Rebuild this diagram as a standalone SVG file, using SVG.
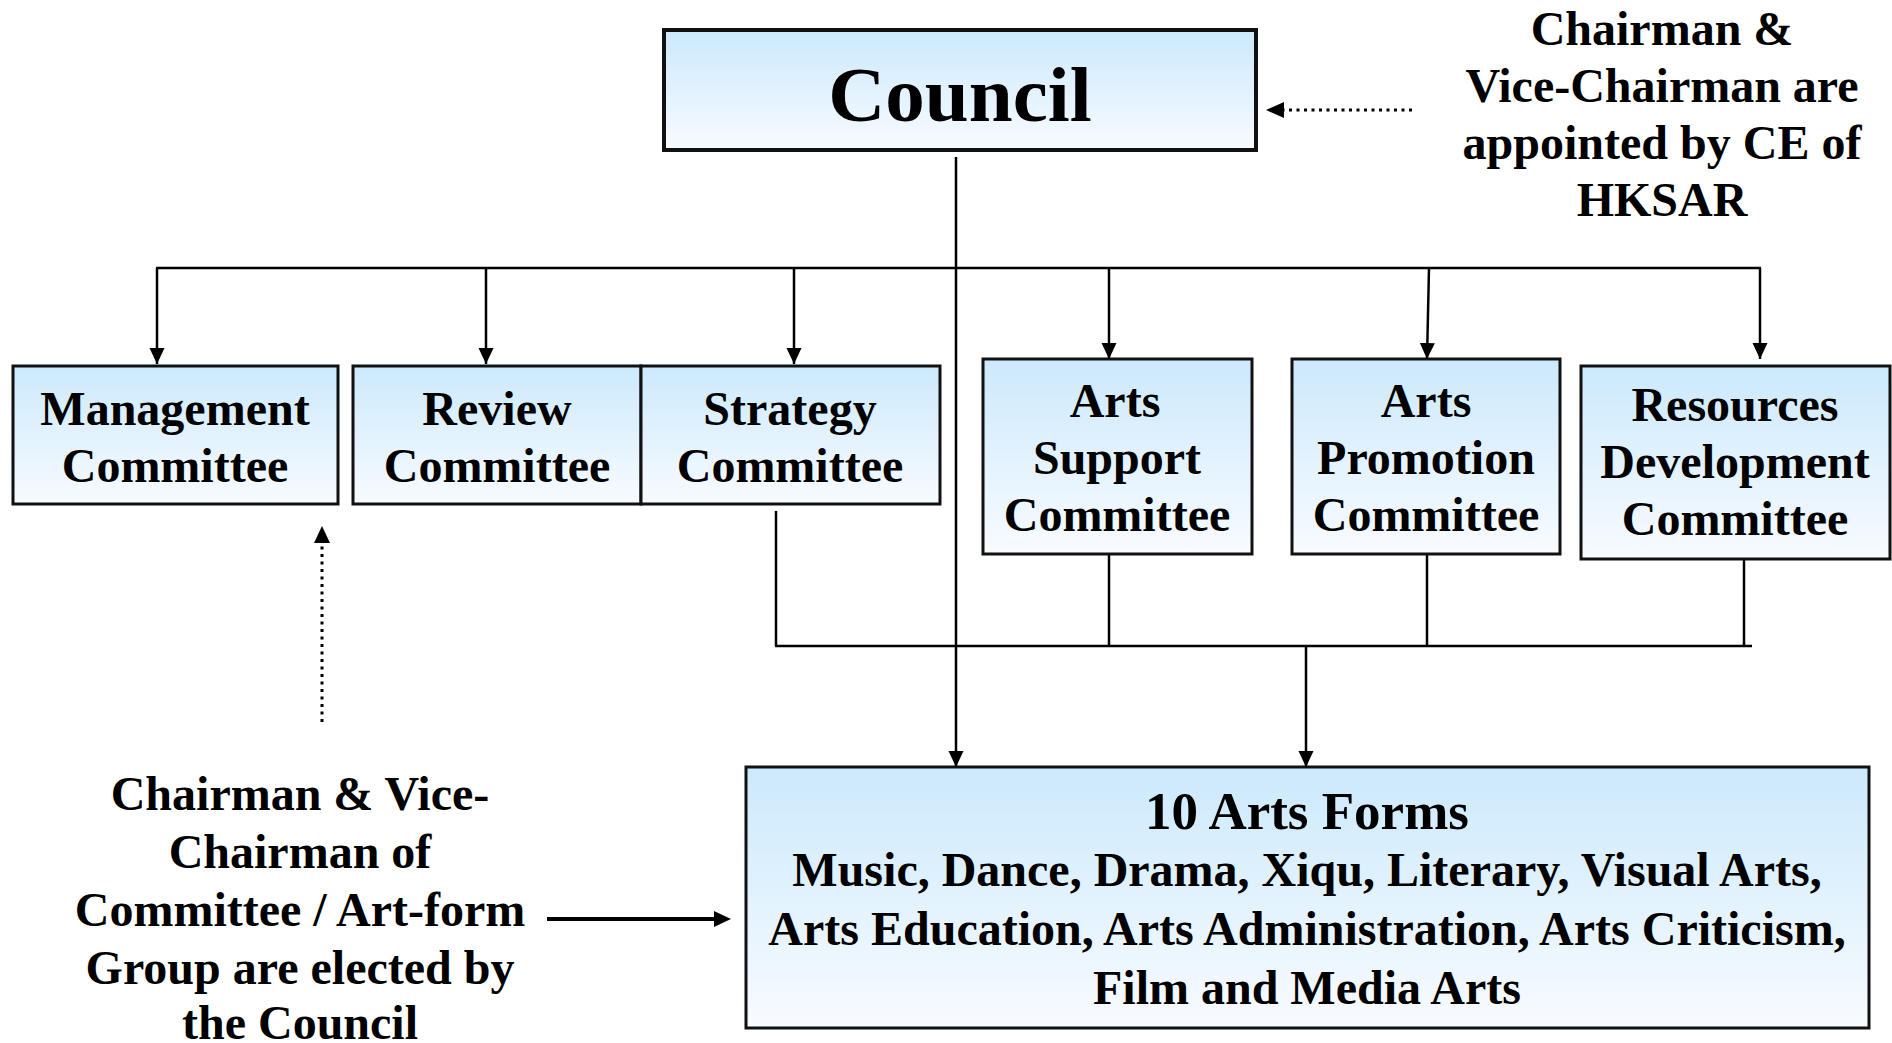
<svg xmlns="http://www.w3.org/2000/svg" width="1892" height="1043" viewBox="0 0 1892 1043">
<defs>
<linearGradient id="bg" x1="0" y1="0" x2="0" y2="1">
<stop offset="0" stop-color="#cce9fc"/>
<stop offset="1" stop-color="#f8fbff"/>
</linearGradient>
<marker id="ah" markerUnits="userSpaceOnUse" markerWidth="16" markerHeight="16" refX="16" refY="8" orient="auto">
<path d="M0,0.5 L16,8 L0,15.5 z" fill="#000"/>
</marker>
</defs>
<style>
.box{fill:url(#bg);stroke:#111;stroke-width:3}
.t{font-family:"Liberation Serif","Times New Roman",serif;font-weight:bold;font-size:48px;fill:#000;text-anchor:middle}
.ln{stroke:#000;stroke-width:2.5;fill:none}
.ar{stroke:#000;stroke-width:2.5;fill:none;marker-end:url(#ah)}
.dot{stroke:#000;stroke-width:3;fill:none;stroke-dasharray:3 4.5}
</style>
<rect width="1892" height="1043" fill="#fff"/>

<g id="connectors">
<line class="ar" x1="956" y1="157" x2="956" y2="767"/>
<line class="ln" x1="156" y1="268" x2="1761" y2="268"/>
<line class="ar" x1="157" y1="268" x2="157" y2="364"/>
<line class="ar" x1="486" y1="268" x2="486" y2="364"/>
<line class="ar" x1="794" y1="268" x2="794" y2="364"/>
<line class="ar" x1="1109" y1="268" x2="1109" y2="359"/>
<line class="ar" x1="1429" y1="268" x2="1427" y2="359"/>
<line class="ar" x1="1760" y1="268" x2="1760" y2="359"/>
<line class="ln" x1="776" y1="511" x2="776" y2="646"/>
<line class="ln" x1="775" y1="646" x2="1752" y2="646"/>
<line class="ln" x1="1109" y1="554" x2="1109" y2="646"/>
<line class="ln" x1="1427" y1="554" x2="1427" y2="646"/>
<line class="ln" x1="1744" y1="559" x2="1744" y2="646"/>
<line class="ar" x1="1306" y1="646" x2="1306" y2="767"/>
<line class="dot" x1="1412" y1="110" x2="1282" y2="110"/>
<path d="M1266,110 L1284,102 L1284,118 z" fill="#000"/>
<line class="dot" x1="322" y1="722" x2="322" y2="542"/>
<path d="M322,526 L314,543 L330,543 z" fill="#000"/>
<line x1="547" y1="919" x2="716" y2="919" stroke="#000" stroke-width="4"/>
<path d="M731,919 L714,911 L714,927 z" fill="#000"/>
</g>

<g id="council">
<rect class="box" x="664" y="30" width="592" height="120" style="stroke-width:4"/>
<text class="t" x="960" y="121" style="font-size:79px">Council</text>
</g>

<g id="note-ce">
<text class="t" x="1662" y="45">Chairman &amp;</text>
<text class="t" x="1662" y="102">Vice-Chairman are</text>
<text class="t" x="1662" y="159">appointed by CE of</text>
<text class="t" x="1662" y="216">HKSAR</text>
</g>

<g id="management">
<rect class="box" x="13" y="366" width="325" height="138"/>
<text class="t" x="175" y="425">Management</text>
<text class="t" x="175" y="482">Committee</text>
</g>

<g id="review">
<rect class="box" x="353" y="366" width="288" height="138"/>
<text class="t" x="497" y="425">Review</text>
<text class="t" x="497" y="482">Committee</text>
</g>

<g id="strategy">
<rect class="box" x="641" y="366" width="299" height="138"/>
<text class="t" x="790" y="425">Strategy</text>
<text class="t" x="790" y="482">Committee</text>
</g>

<g id="arts-support">
<rect class="box" x="983" y="359" width="269" height="195"/>
<text class="t" x="1115" y="417">Arts</text>
<text class="t" x="1117" y="474">Support</text>
<text class="t" x="1117" y="531">Committee</text>
</g>

<g id="arts-promotion">
<rect class="box" x="1292" y="359" width="268" height="195"/>
<text class="t" x="1426" y="417">Arts</text>
<text class="t" x="1426" y="474">Promotion</text>
<text class="t" x="1426" y="531">Committee</text>
</g>

<g id="resources">
<rect class="box" x="1581" y="366" width="309" height="193"/>
<text class="t" x="1735" y="421">Resources</text>
<text class="t" x="1735" y="478">Development</text>
<text class="t" x="1735" y="535">Committee</text>
</g>

<g id="arts-forms">
<rect class="box" x="746" y="767" width="1123" height="261"/>
<text class="t" x="1307" y="829" style="font-size:53px">10 Arts Forms</text>
<text class="t" x="1307" y="886">Music, Dance, Drama, Xiqu, Literary, Visual Arts,</text>
<text class="t" x="1307" y="945">Arts Education, Arts Administration, Arts Criticism,</text>
<text class="t" x="1307" y="1004">Film and Media Arts</text>
</g>

<g id="note-elected">
<text class="t" x="300" y="810">Chairman &amp; Vice-</text>
<text class="t" x="300" y="868">Chairman of</text>
<text class="t" x="300" y="926">Committee / Art-form</text>
<text class="t" x="300" y="984">Group are elected by</text>
<text class="t" x="300" y="1039">the Council</text>
</g>
</svg>
